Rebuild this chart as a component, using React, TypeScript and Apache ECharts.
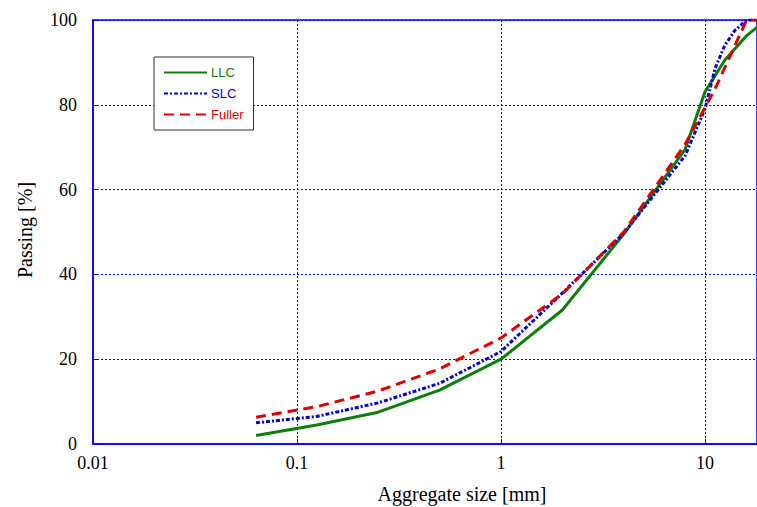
import React, { useEffect, useRef } from "react";
import * as echarts from "echarts";

const seriesNames = ["LLC", "SLC", "Fuller"];
const llcSizes = [0.063, 0.125, 0.25, 0.5, 1, 2, 4, 8, 10, 12.5, 16, 20];
const llcPassing = [2, 4.5, 7.5, 12.7, 20, 31.6, 49.5, 69.5, 83, 90.5, 96.3, 100];
const slcSizes = [0.063, 0.125, 0.25, 0.5, 1, 2, 4, 8, 10, 11.2, 12.5, 14, 16, 22.4];
const slcPassing = [5, 6.5, 9.7, 14.3, 21.8, 35.6, 49.7, 68, 79, 88.5, 94, 97.5, 100, 100];
const fullerSizes = [0.063, 0.125, 0.25, 0.5, 1, 2, 4, 8, 11.2, 16, 22.4];
const fullerPassing = [6.3, 8.8, 12.5, 17.7, 25, 35.4, 50, 70.7, 83.7, 100, 100];
const xTickLabels = ["0.01", "0.1", "1", "10"];

const pair = (xs: number[], ys: number[]) => xs.map((x, i) => [x, ys[i]]);

const GREEN = "#0a800a";
const BLUE = "#0000dd";
const GRIDBLUE = "#0000ff";
const RED = "#e00000";
const SERIF = "'Liberation Serif', 'Times New Roman', serif";

export default function App() {
  const ref = useRef<HTMLDivElement>(null);
  useEffect(() => {
    if (!ref.current) return;
    const chart = echarts.init(ref.current, undefined, { renderer: "svg" });
    const colors = [GREEN, BLUE, RED];
    chart.setOption({
      animation: false,
      backgroundColor: "#ffffff",
      grid: { left: 93, right: 0, top: 20, bottom: 63, show: true, borderColor: GRIDBLUE, borderWidth: 1.5 },
      legend: {
        orient: "vertical",
        left: 154,
        top: 57,
        padding: [9, 10, 9, 9],
        itemGap: 8,
        itemWidth: 43,
        itemHeight: 14,
        align: "left",
        borderColor: "#333",
        borderWidth: 1,
        backgroundColor: "#fff",
        itemStyle: { opacity: 0 },
        data: seriesNames.map((n, i) => ({ name: n, textStyle: { color: colors[i] } })),
        textStyle: { fontFamily: "'Liberation Sans', Arial, sans-serif", fontSize: 13, padding: [0, 0, 0, -1] },
      },
      xAxis: {
        type: "log",
        logBase: 10,
        min: 0.01,
        max: 18,
        axisLine: { show: true, lineStyle: { color: GRIDBLUE, width: 1.5 } },
        axisTick: { show: true, inside: true, length: 5, lineStyle: { color: GRIDBLUE } },
        minorTick: { show: false },
        splitLine: { show: true, lineStyle: { color: GRIDBLUE, type: [2, 2], width: 1 } },
        axisLabel: {
          color: "#000",
          fontFamily: SERIF,
          fontSize: 18,
          margin: 10,
          showMaxLabel: false,
          formatter: (v: number) => {
            const lg = Math.log10(v);
            if (Math.abs(lg - Math.round(lg)) > 1e-6) return "";
            return xTickLabels[Math.round(lg) + 2] ?? "";
          },
        },
      },
      yAxis: {
        type: "value",
        min: 0,
        max: 100,
        interval: 20,
        axisLine: { show: true, lineStyle: { color: GRIDBLUE, width: 1.5 } },
        axisTick: { show: true, inside: true, length: 5, lineStyle: { color: GRIDBLUE } },
        splitLine: { show: true, lineStyle: { color: GRIDBLUE, type: [2, 2], width: 1 } },
        axisLabel: { color: "#000", fontFamily: SERIF, fontSize: 18, margin: 16 },
      },
      graphic: [
        {
          type: "text",
          x: 462,
          y: 494,
          style: {
            text: "Aggregate size [mm]",
            fill: "#000",
            font: `20px ${SERIF}`,
            align: "center",
            verticalAlign: "middle",
          },
        },
        {
          type: "text",
          x: 25,
          y: 230,
          rotation: Math.PI / 2,
          style: {
            text: "Passing [%]",
            fill: "#000",
            font: `20px ${SERIF}`,
            align: "center",
            verticalAlign: "middle",
          },
        },
      ],
      series: [
        {
          name: "LLC",
          type: "line",
          data: pair(llcSizes, llcPassing),
          symbol: "none",
          color: GREEN,
          lineStyle: { color: GREEN, width: 3 },
          z: 3,
        },
        {
          name: "SLC",
          type: "line",
          data: pair(slcSizes, slcPassing),
          symbol: "none",
          color: BLUE,
          lineStyle: { color: BLUE, width: 3, type: [4, 2, 2, 2] },
          z: 4,
        },
        {
          name: "Fuller",
          type: "line",
          data: pair(fullerSizes, fullerPassing),
          symbol: "none",
          color: RED,
          lineStyle: { color: RED, width: 3, type: [10, 6] },
          z: 5,
        },
      ],
    });
    return () => chart.dispose();
  }, []);
  return (
    <div
      ref={ref}
      style={{ position: "absolute", left: 0, top: 0, width: 757, height: 507 }}
    />
  );
}
